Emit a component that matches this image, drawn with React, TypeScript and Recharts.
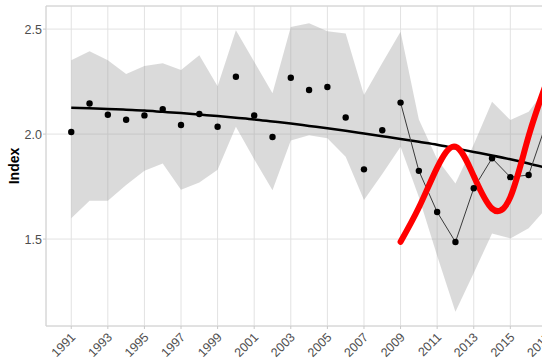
import React from 'react';
import { ComposedChart, Area, Line, XAxis, YAxis, CartesianGrid, ReferenceArea } from 'recharts';

const years = [1991, 1992, 1993, 1994, 1995, 1996, 1997, 1998, 1999, 2000, 2001, 2002, 2003, 2004, 2005, 2006, 2007, 2008, 2009, 2010, 2011, 2012, 2013, 2014, 2015, 2016, 2017];
const observedIndex = [2.01, 2.146, 2.092, 2.068, 2.089, 2.119, 2.043, 2.096, 2.035, 2.273, 2.089, 1.986, 2.268, 2.21, 2.224, 2.079, 1.832, 2.018, 2.15, 1.825, 1.629, 1.486, 1.742, 1.885, 1.795, 1.805, 2.06];
const trendIndex = [2.125, 2.123, 2.12, 2.116, 2.112, 2.106, 2.1, 2.093, 2.086, 2.078, 2.07, 2.06, 2.05, 2.039, 2.028, 2.016, 2.003, 1.99, 1.977, 1.963, 1.949, 1.932, 1.915, 1.898, 1.88, 1.86, 1.838];
const bandUpper = [2.352, 2.395, 2.352, 2.286, 2.324, 2.337, 2.305, 2.376, 2.228, 2.495, 2.345, 2.194, 2.51, 2.528, 2.49, 2.479, 2.186, 2.338, 2.487, 2.07, 1.88, 1.765, 1.95, 2.154, 2.067, 2.106, 2.22];
const bandLower = [1.599, 1.682, 1.682, 1.757, 1.825, 1.86, 1.735, 1.77, 1.83, 2.035, 1.88, 1.733, 1.97, 1.995, 1.98, 1.892, 1.686, 1.81, 1.94, 1.7, 1.42, 1.154, 1.338, 1.527, 1.503, 1.551, 1.65];
const modelYears = [2009, 2010, 2011, 2012, 2013, 2014, 2015, 2016, 2017];
const modelIndex = [1.487, 1.65, 1.84, 1.94, 1.8, 1.645, 1.7, 1.99, 2.25];
const recentFrom = 2009;
const xTicks = [1991, 1993, 1995, 1997, 1999, 2001, 2003, 2005, 2007, 2009, 2011, 2013, 2015, 2017];
const yTicks = [1.5, 2.0, 2.5];
const xDomain = [1989.62, 2019.3];
const yDomain = [1.086, 2.61];

const data = years.map((year, i) => {
  const m = modelYears.indexOf(year);
  return {
    year,
    obs: observedIndex[i],
    trend: trendIndex[i],
    band: [bandLower[i], bandUpper[i]],
    recent: year >= recentFrom ? observedIndex[i] : null,
    model: m >= 0 ? modelIndex[m] : null,
  };
});

const FONT = '"Liberation Sans", Arial, Helvetica, sans-serif';

const XTick = (props: any) => {
  const { x, y, payload } = props;
  const ax = x + 5;
  const ay = y + 7;
  return (
    <text x={ax} y={ay} textAnchor="end" fontSize={12.5} fill="#4d4d4d" fontFamily={FONT} transform={`rotate(-45, ${ax}, ${ay})`}>
      {payload.value}
    </text>
  );
};

const YLabel = (props: any) => {
  const vb = props.viewBox || { x: 0, y: 6, width: 46, height: 320 };
  const cy = vb.y + vb.height / 2;
  const cx = 14;
  return (
    <text x={cx} y={cy} textAnchor="middle" dominantBaseline="central" fontSize={14} fontWeight="bold" fill="#000" fontFamily={FONT} transform={`rotate(-90, ${cx}, ${cy})`}>
      Index
    </text>
  );
};

export default function App() {
  return (
    <div style={{ position: 'absolute', left: 0, top: 0, width: 542, height: 362, overflow: 'hidden', background: '#fff', fontFamily: FONT }}>
      <ComposedChart width={600} height={362} data={data} margin={{ top: 6, right: 11, bottom: 0, left: 0 }}>
        <CartesianGrid stroke="#e2e2e2" strokeWidth={1} />
        <ReferenceArea x1={xDomain[0]} x2={xDomain[1]} y1={yDomain[0]} y2={yDomain[1]} fill="none" stroke="#d2d2d2" strokeWidth={1} ifOverflow="visible" />
        <XAxis
          type="number"
          dataKey="year"
          domain={xDomain}
          ticks={xTicks}
          interval={0}
          allowDataOverflow
          height={36}
          axisLine={false}
          tickSize={3}
          tickMargin={2}
          tickLine={{ stroke: '#c8c8c8' }}
          tick={<XTick />}
        />
        <YAxis
          type="number"
          domain={yDomain}
          ticks={yTicks}
          allowDataOverflow
          width={46}
          axisLine={false}
          tickSize={3}
          tickMargin={1}
          tickLine={{ stroke: '#c8c8c8' }}
          tickFormatter={(v: number) => v.toFixed(1)}
          tick={{ fontSize: 12.5, fill: '#4d4d4d', fontFamily: FONT }}
          label={<YLabel />}
        />
        <Area dataKey="band" type="linear" fill="#999999" fillOpacity={0.36} stroke="none" isAnimationActive={false} activeDot={false} />
        <Line dataKey="trend" type="monotone" stroke="#000" strokeWidth={2.5} dot={false} activeDot={false} isAnimationActive={false} />
        <Line dataKey="recent" type="linear" stroke="#3a3a3a" strokeWidth={1} dot={false} activeDot={false} isAnimationActive={false} />
        <Line dataKey="obs" stroke="none" strokeWidth={0} dot={{ r: 3.2, fill: '#000', stroke: 'none' }} activeDot={false} isAnimationActive={false} />
        <Line dataKey="model" type="natural" stroke="#ff0000" strokeWidth={6} strokeLinecap="round" dot={false} activeDot={false} isAnimationActive={false} />
      </ComposedChart>
    </div>
  );
}
